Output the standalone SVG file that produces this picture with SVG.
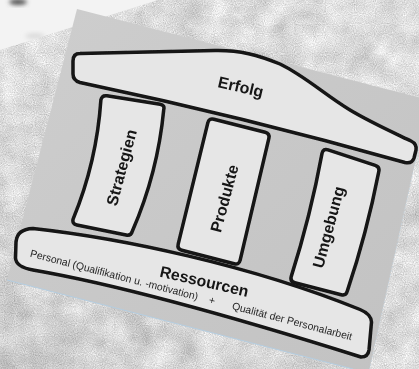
<svg xmlns="http://www.w3.org/2000/svg" width="419" height="369" viewBox="0 0 419 369">
<defs>
  <filter id="concrete" x="0" y="0" width="100%" height="100%" color-interpolation-filters="sRGB">
    <feTurbulence type="fractalNoise" baseFrequency="0.04" numOctaves="4" seed="3" result="n1"/>
    <feColorMatrix in="n1" type="matrix" values="0.33 0.33 0.33 0 0  0.33 0.33 0.33 0 0  0.33 0.33 0.33 0 0  0 0 0 0 1" result="g1"/>
    <feTurbulence type="fractalNoise" baseFrequency="0.9" numOctaves="1" seed="9" result="n2"/>
    <feColorMatrix in="n2" type="matrix" values="0.33 0.33 0.33 0 0  0.33 0.33 0.33 0 0  0.33 0.33 0.33 0 0  0 0 0 0 1" result="g2"/>
    <feComposite in="g1" in2="g2" operator="arithmetic" k1="0" k2="0.3" k3="0.4" k4="0" result="mix"/>
    <feComponentTransfer in="mix">
      <feFuncR type="linear" slope="1.0" intercept="0.37"/>
      <feFuncG type="linear" slope="1.0" intercept="0.37"/>
      <feFuncB type="linear" slope="1.0" intercept="0.37"/>
      <feFuncA type="linear" slope="0" intercept="1"/>
    </feComponentTransfer>
  </filter>
  <filter id="soft" x="-50%" y="-50%" width="200%" height="200%">
    <feGaussianBlur stdDeviation="2"/>
  </filter>
  <filter id="photo" x="-5%" y="-5%" width="110%" height="110%">
    <feGaussianBlur stdDeviation="0.35"/>
  </filter>
  <linearGradient id="cardFill" x1="0" y1="0" x2="1" y2="1">
    <stop offset="0" stop-color="#cecece"/>
    <stop offset="1" stop-color="#c2c2c2"/>
  </linearGradient>
  <linearGradient id="shade" x1="1" y1="0" x2="0" y2="1">
    <stop offset="0" stop-color="#ffffff" stop-opacity="0.12"/>
    <stop offset="0.5" stop-color="#808080" stop-opacity="0"/>
    <stop offset="1" stop-color="#000000" stop-opacity="0.08"/>
  </linearGradient>
  <style>
    .shape { fill:#e6e6e6; stroke:#141414; stroke-width:3.5; stroke-linejoin:round; }
    .lbl { font-family:"Liberation Sans", Arial, sans-serif; font-weight:bold; fill:#151515; }
    .sub { font-family:"Liberation Sans", Arial, sans-serif; font-size:10.4px; fill:#262626; }
  </style>
</defs>

<!-- background: concrete surface -->
<rect x="0" y="0" width="419" height="369" filter="url(#concrete)"/>
<rect x="0" y="0" width="419" height="369" fill="url(#shade)"/>

<!-- white sheet at top-left -->
<polygon points="0,0 158,0 0,50" fill="#f3f3f3"/>
<ellipse cx="18" cy="2" rx="9" ry="3" fill="#555" filter="url(#soft)"/>
<ellipse cx="35" cy="36" rx="10" ry="3" fill="#dcdcdc" filter="url(#soft)"/>

<!-- photographed slide card -->
<polygon points="77,9 419,97.5 419,145 369.5,369 353,369 7,280" fill="url(#cardFill)"/>
<line x1="7" y1="280" x2="353" y2="369" stroke="#b4cde0" stroke-width="1"/>
<line x1="419" y1="145" x2="369.5" y2="369" stroke="#c4d2dc" stroke-width="0.8" stroke-dasharray="2 2"/>

<g id="connectors"/>

<g filter="url(#photo)">
  <g id="roof">
    <path class="shape" d="M80,53.5 L215,50.5 C240,50 258,55 280,64 C305,76 325,95 350,110 C370,122 390,131 411,141 Q417,144 416,150 L414,158 Q412,164 405,162.5 Q242.5,116.5 80,82.5 Q73,80.5 73,74 L73,61 Q73,53.5 80,53.5 Z"/>
    <text class="lbl" font-size="16" transform="translate(217,87) rotate(13)">Erfolg</text>
  </g>

  <g id="pillar-strategien">
    <path class="shape" d="M106.9,95.8 L160.1,104.2 Q165,105 163.7,109.8 Q157.7,173 132.3,231.2 Q131,236 126.1,235 L76.9,225 Q72,224 73.1,219.1 Q96.7,162 100.9,99.9 Q102,95 106.9,95.8 Z"/>
    <text class="lbl" font-size="16" text-anchor="middle" y="4.5" transform="translate(122.5,167.7) rotate(-75)">Strategien</text>
  </g>

  <g id="pillar-produkte">
    <path class="shape" d="M213.85,119.23 L265.15,132.27 Q270,133.5 268.85,138.37 L240.15,260.13 Q239,265 234.16,263.75 L181.84,250.25 Q177,249 178.19,244.14 L207.81,122.86 Q209,118 213.85,119.23 Z"/>
    <text class="lbl" font-size="16" text-anchor="middle" y="5.8" transform="translate(224.2,198.3) rotate(-75)">Produkte</text>
  </g>

  <g id="pillar-umgebung">
    <path class="shape" d="M328.05,149.87 L375.25,165.43 Q380,167 378.73,171.84 Q366.9,232.5 347.27,291.16 Q346,296 341.16,294.75 L294.84,282.75 Q290,281.5 291.21,276.65 Q310.5,215.9 322.09,153.15 Q323.3,148.3 328.05,149.87 Z"/>
    <text class="lbl" font-size="16" text-anchor="middle" y="4" transform="translate(330,227.5) rotate(-75)">Umgebung</text>
  </g>

  <g id="base">
    <path class="shape" d="M33,228.5 C120,238 250,265 360,309.5 Q371,314 371.5,322 L369,350 Q368,357 361,357 C250,322 120,285 33,270 Q16,267 15.5,258 L16,242 Q17,229 33,228.5 Z"/>
    <text class="lbl" font-size="15.8" transform="translate(159,276.5) rotate(13)">Ressourcen</text>
    <text class="sub" transform="translate(29.5,256.5) rotate(14.6)"><tspan x="0">Personal (Qualifikation u. -motivation)</tspan><tspan x="184.6">+</tspan><tspan x="208.7">Qualität der Personalarbeit</tspan></text>
  </g>
</g>
</svg>
